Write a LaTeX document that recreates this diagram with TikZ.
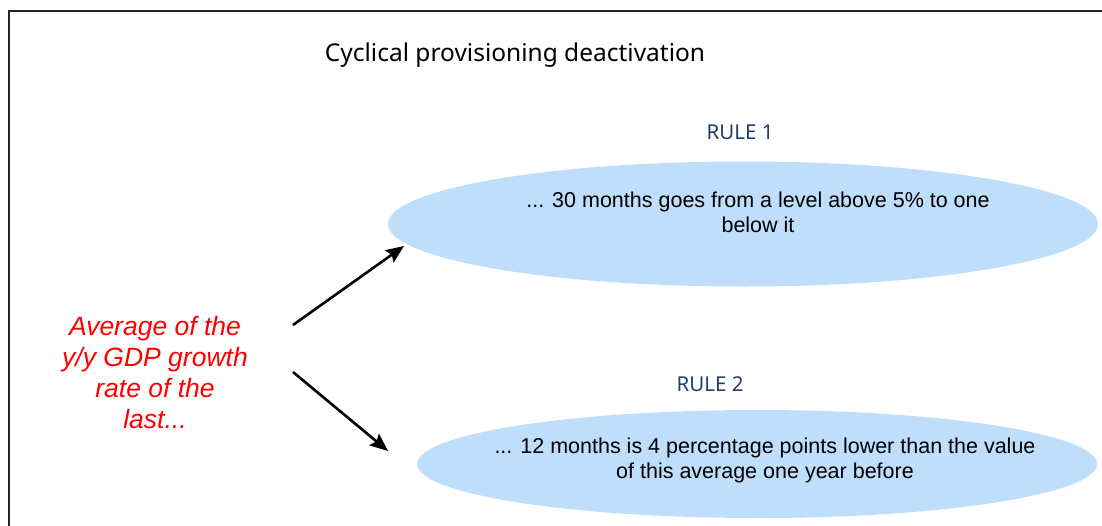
\documentclass[tikz,border=0pt]{standalone}
\usepackage{fontspec}
\setmainfont{Liberation Sans}
\newfontfamily\headfont{Noto Sans}
\usetikzlibrary{shapes.geometric,arrows.meta}
\definecolor{rulefill}{HTML}{BFDEFB}
\definecolor{ruleblue}{HTML}{1F3F6F}
\begin{document}
\begin{tikzpicture}[x=1pt, y=-1pt,
    rulebox/.style={ellipse, fill=rulefill, inner sep=0pt},
    ruletext/.style={align=center, font=\fontsize{21.5}{25}\selectfont},
    rulename/.style={text=ruleblue, font=\headfont\fontsize{20.5}{24}\selectfont},
    bigarrow/.style={line width=2.6pt, -{Stealth[length=18pt, width=15pt, inset=3pt]}}]
    \useasboundingbox (0,0) rectangle (1102,525);

    % Draw the frame
    \draw[line width=1.6pt, black!85] (9,530) -- (9,11) -- (1110,11);

    \node (title) at (515,55) {\headfont\fontsize{24.5}{28}\selectfont Cyclical provisioning deactivation};

    % Draw the two rules
    \node[rulebox, minimum width=710pt, minimum height=125pt] (rule1) at (743,224) {};
    \node[rulebox, minimum width=680pt, minimum height=108pt] (rule2) at (757,464) {};

    \node[rulename] (name1) at (740,132) {RULE 1};
    \node[rulename] (name2) at (710,384) {RULE 2};

    \node[ruletext] (text1) at (758,212) {... 30 months goes from a level above 5\% to one\\below it};
    \node[ruletext] (text2) at (765,460) {... 12 months is 4 percentage points lower than the value\\of this average one year before};

    % Draw the red text on the left
    \node[align=center, text=red, font=\itshape\fontsize{26.5}{31}\selectfont] (avg) at (155,373) {Average of the\\y/y GDP growth\\rate of the\\last...};

    % Draw the arrows
    \coordinate (out1) at (293,325);
    \coordinate (in1) at (404,246);
    \coordinate (out2) at (293,372);
    \coordinate (in2) at (388,451);
    \draw[bigarrow] (out1) -- (in1);
    \draw[bigarrow] (out2) -- (in2);
\end{tikzpicture}
\end{document}
